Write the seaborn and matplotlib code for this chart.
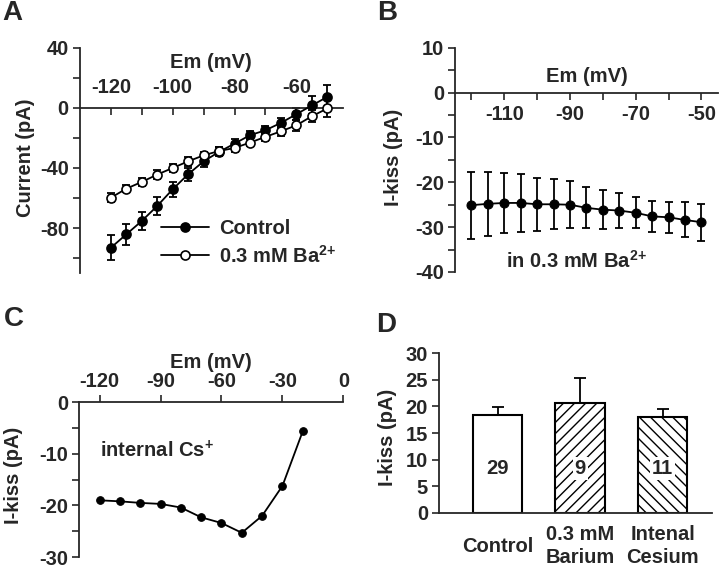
import numpy as np
import matplotlib
matplotlib.use("Agg")
import matplotlib.pyplot as plt
from matplotlib.ticker import MultipleLocator, FixedLocator
import matplotlib.transforms as mtransforms
import seaborn as sns

# ---------------- data ----------------
# panel A: I-V curves
em_a = [-120, -115, -110, -105, -100, -95, -90, -85, -80, -75, -70, -65, -60, -55, -50]
ctrl_i = [-93.1, -84.2, -75.3, -65.3, -54.2, -44.2, -35.6, -29.3, -23.8, -18.2, -14.9, -10.0, -4.2, 1.6, 7.3]
ctrl_err = [8.3, 7.0, 6.3, 6.0, 5.0, 4.5, 3.5, 3.0, 3.0, 2.5, 3.0, 3.5, 4.0, 6.0, 8.0]
ba_i = [-59.8, -53.8, -49.3, -44.4, -40.0, -35.6, -31.6, -28.7, -26.7, -23.1, -19.3, -15.6, -11.6, -5.6, -0.4]
ba_err = [3.0, 2.5, 2.5, 3.0, 2.5, 3.0, 2.5, 2.5, 3.0, 2.5, 2.5, 3.0, 3.5, 4.0, 6.0]

# panel B: I-kiss in barium
em_b = [-120, -115, -110, -105, -100, -95, -90, -85, -80, -75, -70, -65, -60, -55, -50]
kiss_b = [-25.1, -24.8, -24.6, -24.6, -24.9, -24.9, -25.0, -25.7, -26.1, -26.3, -26.8, -27.6, -27.8, -28.4, -28.9]
kiss_b_err = [7.5, 7.1, 6.7, 6.5, 5.9, 5.6, 5.2, 4.6, 4.3, 4.0, 3.5, 3.4, 3.5, 3.9, 4.1]

# panel C: I-kiss with internal Cs+
em_c = [-120, -110, -100, -90, -80, -70, -60, -50, -40, -30, -20]
kiss_c = [-19.0, -19.2, -19.5, -19.7, -20.4, -22.3, -23.4, -25.3, -22.0, -16.2, -5.6]

# panel D: summary bars
groups = ["Control", "0.3 mM\nBarium", "Intenal\nCesium"]
kiss_mean = [18.3, 20.7, 18.0]
kiss_sem = [1.6, 4.6, 1.5]
n_cells = ["29", "9", "11"]
hatches = ["", "///", "\\\\\\"]

# ---------------- style ----------------
sns.set_style("ticks")
plt.rcParams["font.family"] = ["Liberation Sans", "DejaVu Sans"]
plt.rcParams["font.weight"] = "bold"
plt.rcParams["axes.labelweight"] = "bold"
plt.rcParams["axes.unicode_minus"] = False
plt.rcParams["mathtext.fontset"] = "custom"
plt.rcParams["mathtext.rm"] = "Liberation Sans:bold"
plt.rcParams["mathtext.it"] = "Liberation Sans:bold"
plt.rcParams["mathtext.bf"] = "Liberation Sans:bold"
plt.rcParams["hatch.linewidth"] = 1.0
plt.rcParams["axes.linewidth"] = 1.3
plt.rcParams["xtick.major.width"] = 1.2
plt.rcParams["ytick.major.width"] = 1.2
plt.rcParams["xtick.minor.width"] = 1.2
plt.rcParams["ytick.minor.width"] = 1.2

FS = 14.5
LFS = 14.5

fig = plt.figure(figsize=(7.2, 5.69), dpi=100)

axA = fig.add_axes([0.111, 0.520, 0.365, 0.396])
axB = fig.add_axes([0.632, 0.522, 0.365, 0.394])
axC = fig.add_axes([0.110, 0.021, 0.367, 0.272])
axD = fig.add_axes([0.610, 0.099, 0.379, 0.280])


def tick_style(ax, xdir, ydir="out"):
    ax.tick_params(axis="x", which="both", direction=xdir, length=5, labelsize=FS, pad=3)
    ax.tick_params(axis="y", which="both", direction=ydir, length=5, labelsize=FS, pad=3)


# ---------------- A ----------------
ax = axA
ax.errorbar(em_a, ctrl_i, yerr=ctrl_err, fmt="none", ecolor="black", elinewidth=1.3,
            capsize=3, capthick=1.3, zorder=2)
ax.errorbar(em_a, ba_i, yerr=ba_err, fmt="none", ecolor="black", elinewidth=1.3,
            capsize=3, capthick=1.3, zorder=2)
sns.lineplot(x=em_a, y=ctrl_i, ax=ax, color="black", marker="o", markersize=6.5,
             markerfacecolor="black", markeredgecolor="black", markeredgewidth=1.2,
             linewidth=1.3, label="Control", zorder=3)
sns.lineplot(x=em_a, y=ba_i, ax=ax, color="black", marker="o", markersize=6.5,
             markerfacecolor="white", markeredgecolor="black", markeredgewidth=1.2,
             linewidth=1.3, label=r"0.3 mM Ba$^{2{+}}$", zorder=3)
ax.set_xlim(-130, -45)
ax.set_ylim(-110, 40)
ax.spines["top"].set_position(("data", 0))
ax.spines["bottom"].set_visible(False)
ax.spines["right"].set_visible(False)
ax.xaxis.tick_top()
ax.xaxis.set_label_position("top")
ax.xaxis.set_major_locator(FixedLocator([-120, -100, -80, -60]))
ax.xaxis.set_minor_locator(FixedLocator([-110, -90, -70, -50]))
ax.yaxis.set_major_locator(FixedLocator([40, 0, -40, -80]))
ax.yaxis.set_minor_locator(FixedLocator([20, -20, -60, -100]))
tick_style(ax, "in")
ax.tick_params(axis="x", which="both", pad=8)
ax.set_xlabel("Em (mV)", fontsize=LFS, labelpad=7)
ax.set_ylabel("Current (pA)", fontsize=LFS)
ax.yaxis.set_label_coords(-0.171, 0.51)
ax.legend(loc="lower left", bbox_to_anchor=(0.31, 0.03), frameon=False, fontsize=LFS,
          handlelength=2.35, handletextpad=0.5, labelspacing=0.3, borderpad=0,
          borderaxespad=0)

# ---------------- B ----------------
ax = axB
ax.errorbar(em_b, kiss_b, yerr=kiss_b_err, fmt="none", ecolor="black", elinewidth=1.3,
            capsize=3, capthick=1.3, zorder=2)
sns.lineplot(x=em_b, y=kiss_b, ax=ax, color="black", marker="o", markersize=6.5,
             markerfacecolor="black", markeredgecolor="black", linewidth=1.3, zorder=3)
ax.set_xlim(-125, -45)
ax.set_ylim(-40, 10)
ax.spines["bottom"].set_position(("data", 0))
ax.spines["top"].set_visible(False)
ax.spines["right"].set_visible(False)
ax.xaxis.set_major_locator(FixedLocator([-110, -90, -70, -50]))
ax.xaxis.set_minor_locator(FixedLocator([-120, -100, -80, -60]))
ax.yaxis.set_major_locator(MultipleLocator(10))
ax.yaxis.set_minor_locator(MultipleLocator(5))
tick_style(ax, "out")
ax.tick_params(axis="x", which="both", pad=4)
ax.text(0.5, 3.5, "Em (mV)", fontsize=LFS, fontweight="bold", ha="center", va="center",
        transform=mtransforms.blended_transform_factory(ax.transAxes, ax.transData))
ax.set_ylabel("I-kiss (pA)", fontsize=LFS)
ax.yaxis.set_label_coords(-0.198, 0.51)
ax.text(-88, -39.0, r"in 0.3 mM Ba$^{2{+}}$", fontsize=LFS, fontweight="bold",
        ha="center", va="baseline")

# ---------------- C ----------------
ax = axC
sns.lineplot(x=em_c, y=kiss_c, ax=ax, color="black", marker="o", markersize=5.5,
             markerfacecolor="black", markeredgecolor="black", linewidth=1.3)
ax.set_xlim(-130, 0)
ax.set_ylim(-30, 0)
ax.spines["bottom"].set_visible(False)
ax.spines["right"].set_visible(False)
ax.xaxis.tick_top()
ax.xaxis.set_label_position("top")
ax.xaxis.set_major_locator(FixedLocator([-120, -90, -60, -30, 0]))
ax.yaxis.set_major_locator(MultipleLocator(10))
ax.yaxis.set_minor_locator(MultipleLocator(5))
tick_style(ax, "out")
ax.set_xlabel("Em (mV)", fontsize=LFS, labelpad=3)
ax.set_ylabel("I-kiss (pA)", fontsize=LFS)
ax.yaxis.set_label_coords(-0.212, 0.526)
ax.text(-120, -10.6, r"internal Cs$^{{+}}$", fontsize=LFS, fontweight="bold",
        ha="left", va="baseline")

# ---------------- D ----------------
ax = axD
sns.barplot(x=groups, y=kiss_mean, ax=ax, color="white", edgecolor="black",
            linewidth=1.5, width=0.6, errorbar=None, saturation=1)
for patch, h in zip(ax.patches, hatches):
    patch.set_facecolor("white")
    patch.set_hatch(h)
ax.errorbar(range(len(groups)), kiss_mean, yerr=[[0] * len(groups), kiss_sem],
            fmt="none", ecolor="black", elinewidth=1.3, capsize=4, capthick=1.3, zorder=1)
for i, n in enumerate(n_cells):
    ax.text(i, 8.4, n, fontsize=LFS, fontweight="bold", ha="center", va="center",
            bbox=dict(facecolor="white", edgecolor="none", pad=1.5), zorder=5)
ax.set_xlim(-0.71, 2.60)
ax.set_ylim(0, 30)
ax.yaxis.set_major_locator(MultipleLocator(5))
sns.despine(ax=ax)
ax.tick_params(axis="x", length=0, labelsize=FS, pad=24)
ax.tick_params(axis="y", direction="out", length=5, labelsize=FS, pad=3)
for lab in ax.get_xticklabels():
    lab.set_verticalalignment("center")
    lab.set_fontweight("bold")
    lab.set_linespacing(1.25)
ax.set_ylabel("I-kiss (pA)", fontsize=LFS)
ax.yaxis.set_label_coords(-0.154, 0.475)

# panel letters
for label, (px, py) in zip("ABCD", [(12, 13), (387, 13), (14, 319), (386, 325)]):
    fig.text(px / 720, 1 - py / 569, label, fontsize=20, fontweight="bold",
             ha="center", va="center")

fig.savefig("out.png", dpi=100)
